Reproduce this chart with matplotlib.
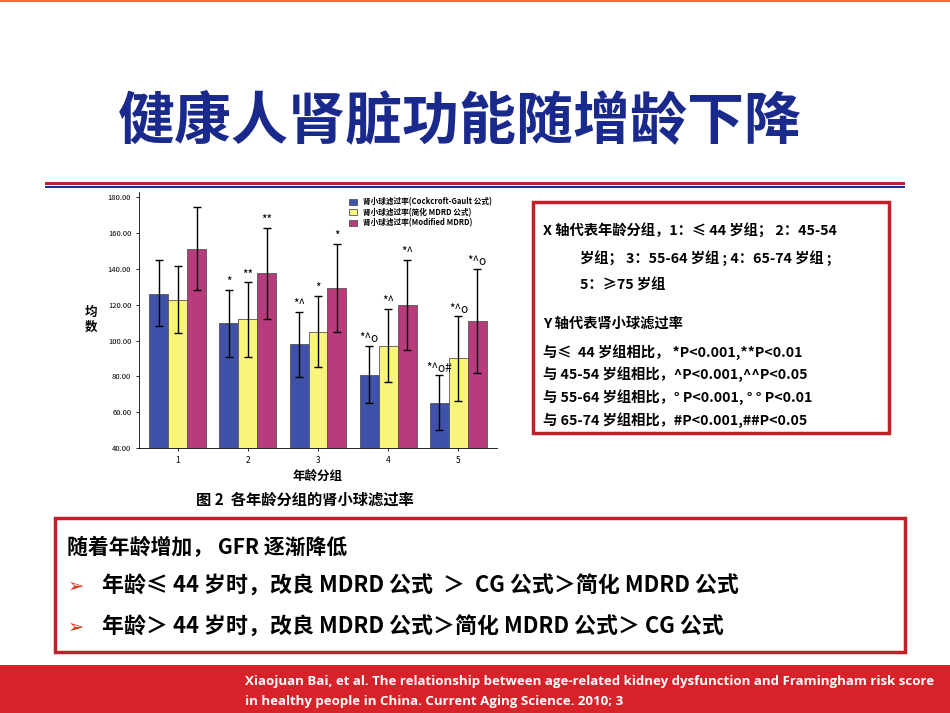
import numpy as np
import matplotlib.pyplot as plt
from matplotlib.patches import Rectangle

plt.rcParams['font.family'] = ['Noto Sans CJK SC', 'DejaVu Sans']

W, H = 950, 713

groups = ["1", "2", "3", "4", "5"]
series_names = ["肾小球滤过率(Cockcroft-Gault 公式)", "肾小球滤过率(简化 MDRD 公式)",
                "肾小球滤过率(Modified MDRD)"]
means = [
    [126, 110, 98, 81, 65],
    [122.5, 112, 105, 97, 90],
    [151, 138, 129.5, 120, 111],
]
lows = [
    [108, 91, 79.5, 65, 50],
    [104, 91, 85, 77, 66.5],
    [128, 112, 105, 95, 82],
]
highs = [
    [145, 128.5, 116, 97, 80.5],
    [141.5, 132.5, 125, 117.5, 113.5],
    [174.5, 163, 154, 145, 140],
]
marks = [
    ["", "*", "*^", "*^o", "*^o#"],
    ["", "**", "*", "*^", "*^o"],
    ["", "**", "*", "*^", "*^o"],
]
colors = ["#3f51a8", "#f8f57a", "#b83c7c"]

fig = plt.figure(figsize=(W / 100, H / 100), dpi=100)
fig.patch.set_facecolor("white")


def px(x, y):
    return x / W, 1 - y / H


def rect(x0, y0, x1, y1, **kw):
    fig.patches.append(Rectangle(px(x0, y1), (x1 - x0) / W, (y1 - y0) / H,
                                 transform=fig.transFigure, **kw))


# top orange line
rect(0, 0, W, 2, facecolor="#f07040", edgecolor="none")
# title
fig.text(*px(460, 122), "健康人肾脏功能随增龄下降", ha="center", va="center",
         fontsize=41, fontweight="bold", color="#1a2a8c")
rect(45, 182, 905, 184.5, facecolor="#c0203a", edgecolor="none")
rect(45, 185.5, 905, 188, facecolor="#2a2a9a", edgecolor="none")

# chart
ax = fig.add_axes([139 / W, 1 - 448 / H, (497 - 139) / W, (448 - 192) / H])
x = np.arange(len(groups))
bw = 0.27
for i in range(3):
    pos = x + (i - 1) * bw
    m = np.array(means[i])
    err = [m - np.array(lows[i]), np.array(highs[i]) - m]
    ax.bar(pos, m - 40, bw, bottom=40, color=colors[i], edgecolor="#555555",
           linewidth=0.6, label=series_names[i], zorder=2)
    ax.errorbar(pos, m, yerr=err, fmt="none", ecolor="black", elinewidth=1,
                capsize=3, capthick=1, zorder=3)
    for p, h, t in zip(pos, highs[i], marks[i]):
        if t:
            ax.text(p, h + 0.5, t, ha="center", va="bottom", fontsize=8.5)
ax.set_ylim(40, 183)
ax.set_xlim(-0.55, 4.55)
ax.set_yticks(np.arange(40, 181, 20))
ax.set_yticklabels([f"{v:.2f}" for v in range(40, 181, 20)], fontsize=5.5)
ax.set_xticks(x)
ax.set_xticklabels(groups, fontsize=6)
for s in ["top", "right"]:
    ax.spines[s].set_visible(False)
ax.spines["left"].set_linewidth(0.6)
ax.spines["bottom"].set_linewidth(0.6)
ax.tick_params(length=2, width=0.6)
ax.set_xlabel("年龄分组", fontsize=9, fontweight="bold")
ax.set_ylabel("均\n数", fontsize=9, fontweight="bold", rotation=0, va="center", labelpad=12)
ax.legend(loc="upper right", bbox_to_anchor=(1.0, 1.0), fontsize=5.5, frameon=False,
          handlelength=1.0, handleheight=0.8, labelspacing=0.2, borderpad=0.2,
          prop={"weight": "bold", "size": 5.5})
fig.text(*px(305, 500), "图 2  各年龄分组的肾小球滤过率", ha="center", va="center",
         fontsize=11, fontweight="bold")

# right box
rect(533, 202, 889, 433, facecolor="none", edgecolor="#c0202a", linewidth=2.5)
rt = [
    (543, 231, "X 轴代表年龄分组，1：≤ 44 岁组； 2：45-54"),
    (580, 258, "岁组； 3：55-64 岁组 ; 4：65-74 岁组 ;"),
    (580, 286, "5：≥75 岁组"),
    (543, 324, "Y 轴代表肾小球滤过率"),
    (543, 352, "与≤  44 岁组相比， *P<0.001,**P<0.01"),
    (543, 374, "与 45-54 岁组相比，^P<0.001,^^P<0.05"),
    (543, 397, "与 55-64 岁组相比，° P<0.001, ° ° P<0.01"),
    (543, 420, "与 65-74 岁组相比，#P<0.001,##P<0.05"),
]
for tx, ty, s in rt:
    fig.text(*px(tx, ty), s, ha="left", va="center", fontsize=10.3, fontweight="bold")

# bottom box
rect(55, 518, 905, 652, facecolor="none", edgecolor="#c0202a", linewidth=2.5)
fig.text(*px(67, 547), "随着年龄增加， GFR 逐渐降低", ha="left", va="center",
         fontsize=15, fontweight="bold")
for ty, s in [(586, "年龄≤ 44 岁时，改良 MDRD 公式  ＞  CG 公式＞简化 MDRD 公式"),
              (627, "年龄＞ 44 岁时，改良 MDRD 公式＞简化 MDRD 公式＞ CG 公式")]:
    fig.text(*px(68, ty), "➢", ha="left", va="center", fontsize=14, color="#e03010",
             family="DejaVu Sans")
    fig.text(*px(102, ty), s, ha="left", va="center", fontsize=15.8, fontweight="bold")

# footer
rect(0, 665, W, H, facecolor="#d8222a", edgecolor="none")
fig.text(*px(245, 681), "Xiaojuan Bai, et al. The relationship between age-related kidney dysfunction and Framingham risk score",
         ha="left", va="center", fontsize=9.5, color="white", fontweight="bold", family="Open Sans")
fig.text(*px(245, 702), "in healthy people in China. Current Aging Science. 2010; 3",
         ha="left", va="center", fontsize=9.5, color="white", fontweight="bold", family="Open Sans")

fig.savefig("out.png", dpi=100)
